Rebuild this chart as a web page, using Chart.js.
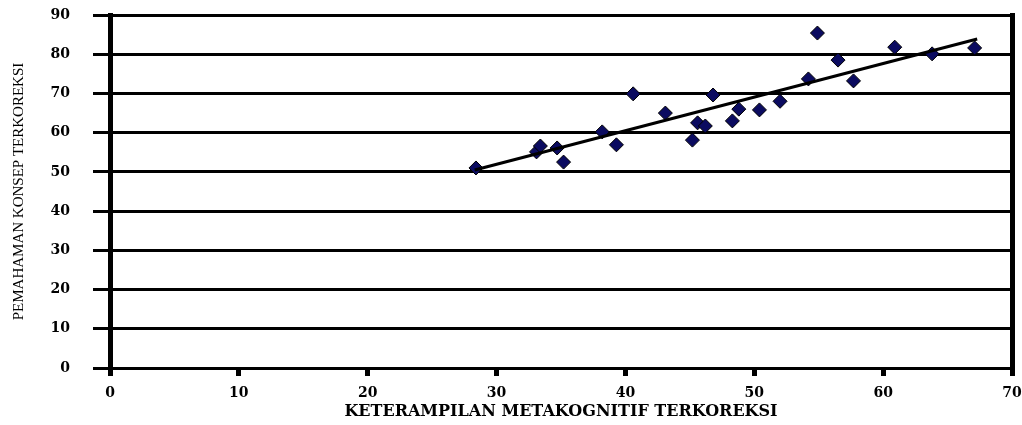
<!DOCTYPE html>
<html>
<head>
<meta charset="utf-8">
<script src="https://cdn.jsdelivr.net/npm/chart.js@4"></script>
<style>
  html, body { margin: 0; padding: 0; background: #ffffff; }
  #wrap { width: 1022px; height: 425px; }
</style>
</head>
<body>
<div id="wrap"><canvas id="c" width="1022" height="425"></canvas></div>
<script>
const xValues = [28.4, 33.1, 33.4, 34.7, 35.2, 38.2, 39.3, 40.6, 43.1, 45.2, 45.6, 46.2, 46.8, 48.3, 48.8, 50.4, 52.0, 54.2, 54.9, 56.5, 57.7, 60.9, 63.8, 67.1];
const yValues = [51.0, 55.1, 56.6, 56.1, 52.5, 60.2, 56.9, 69.9, 65.0, 58.1, 62.5, 61.7, 69.6, 63.0, 66.0, 65.8, 68.0, 73.7, 85.4, 78.5, 73.2, 81.8, 80.1, 81.6];
const trendX = [28.3, 67.3];
const trendY = [50.5, 83.9];
const xTicks = [0, 10, 20, 30, 40, 50, 60, 70];
const yTicks = [0, 10, 20, 30, 40, 50, 60, 70, 80, 90];
const xTitle = 'KETERAMPILAN METAKOGNITIF TERKOREKSI';
const yTitle = 'PEMAHAMAN KONSEP TERKOREKSI';

const points = xValues.map((x, i) => ({ x: x, y: yValues[i] }));
const trend = trendX.map((x, i) => ({ x: x, y: trendY[i] }));

const tickFont = { family: 'DejaVu Serif', size: 14, weight: 'bold' };

function noPad(s) { s.paddingTop = 0; s.paddingBottom = 0; s.paddingLeft = 0; s.paddingRight = 0; }

const chart = new Chart(document.getElementById('c'), {
  type: 'scatter',
  data: {
    datasets: [
      {
        label: 'Trend',
        data: trend,
        showLine: true,
        borderColor: '#000000',
        borderWidth: 3,
        pointRadius: 0,
        pointHoverRadius: 0,
        fill: false
      },
      {
        label: 'Data',
        data: points,
        pointStyle: 'rectRot',
        pointRadius: 7,
        pointHoverRadius: 7,
        backgroundColor: '#0b0b60',
        borderColor: '#000000',
        borderWidth: 1
      }
    ]
  },
  options: {
    responsive: false,
    animation: false,
    devicePixelRatio: 1,
    layout: { autoPadding: false, padding: { left: 10, right: 0, top: 15, bottom: 7 } },
    plugins: { legend: { display: false }, tooltip: { enabled: false } },
    scales: {
      x: {
        type: 'linear',
        min: 0, max: 70,
        afterBuildTicks: (s) => { s.ticks = xTicks.map(v => ({ value: v })); },
        afterFit: (s) => { s.height = 50; noPad(s); },
        border: { display: true, color: '#000000', width: 3 },
        grid: { drawOnChartArea: false, drawTicks: true, tickLength: 8, lineWidth: 5, color: '#000000' },
        ticks: { color: '#000000', font: tickFont, padding: 9, maxRotation: 0 },
        title: { display: true, text: xTitle, color: '#000000',
                 font: { family: 'DejaVu Serif', size: 16, weight: 'bold' }, padding: { top: 0, bottom: -3 } }
      },
      y: {
        type: 'linear',
        min: 0, max: 90,
        afterBuildTicks: (s) => { s.ticks = yTicks.map(v => ({ value: v })); },
        afterFit: (s) => { s.width = 100; noPad(s); },
        border: { display: true, color: '#000000', width: 5 },
        grid: { drawOnChartArea: true, drawTicks: true, tickLength: 17, lineWidth: 3, color: '#000000' },
        ticks: { color: '#000000', font: tickFont, padding: 23 },
        title: { display: true, text: yTitle, color: '#000000',
                 font: { family: 'Liberation Serif', size: 15, weight: 'normal' }, padding: { top: 0, bottom: 0 } }
      },
      y2: {
        type: 'linear',
        position: 'right',
        min: 0, max: 90,
        afterFit: (s) => { s.width = 10; noPad(s); },
        border: { display: true, color: '#000000', width: 5 },
        grid: { display: false },
        ticks: { display: false }
      }
    }
  }
});
</script>
</body>
</html>
